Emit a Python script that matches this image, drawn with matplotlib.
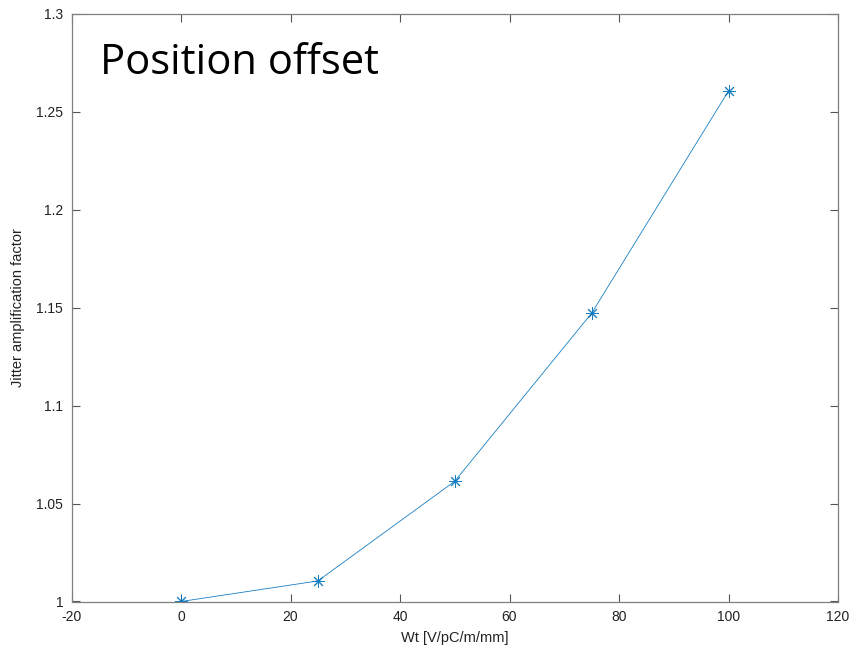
import numpy as np
import matplotlib.pyplot as plt

wt = [0, 25, 50, 75, 100]
jitter = [1.0, 1.0105, 1.0614, 1.1472, 1.2607]
xticks = [-20, 0, 20, 40, 60, 80, 100, 120]
yticks = [1, 1.05, 1.1, 1.15, 1.2, 1.25, 1.3]

plt.rcParams['font.family'] = ['Liberation Sans', 'DejaVu Sans']

fig = plt.figure(figsize=(8.52, 6.5), dpi=100)
ax = fig.add_axes([71.5/852, 1-601.5/650, (838-71.5)/852, (601.5-14)/650])

ax.plot(wt, jitter, color='#0072BD', lw=0.6, marker=(8, 2, 0),
        markersize=9, markeredgewidth=0.7, alpha=0.9)

ax.set_xlim(-20, 120)
ax.set_ylim(1, 1.3)
ax.set_xticks(xticks)
ax.set_xticklabels([str(t) for t in xticks])
ax.set_yticks(yticks)
ax.set_yticklabels(['1', '1.05', '1.1', '1.15', '1.2', '1.25', '1.3'])
ax.tick_params(direction='in', top=True, right=True, length=6, width=0.8,
               color='#555555', labelsize=10, labelcolor='#222222', pad=6)
for s in ax.spines.values():
    s.set_color('#7f7f7f')
    s.set_linewidth(0.9)

ax.set_xlabel('Wt [V/pC/m/mm]', fontsize=10.5, color='#222222', labelpad=5)
ax.set_ylabel('Jitter amplification factor', fontsize=10.5, color='#222222', labelpad=8)

fig.text(100/852, 1-74/650, 'Position offset', fontsize=30,
         family=['Open Sans', 'DejaVu Sans'], color='black', va='baseline')

fig.savefig('out.png', dpi=100)
